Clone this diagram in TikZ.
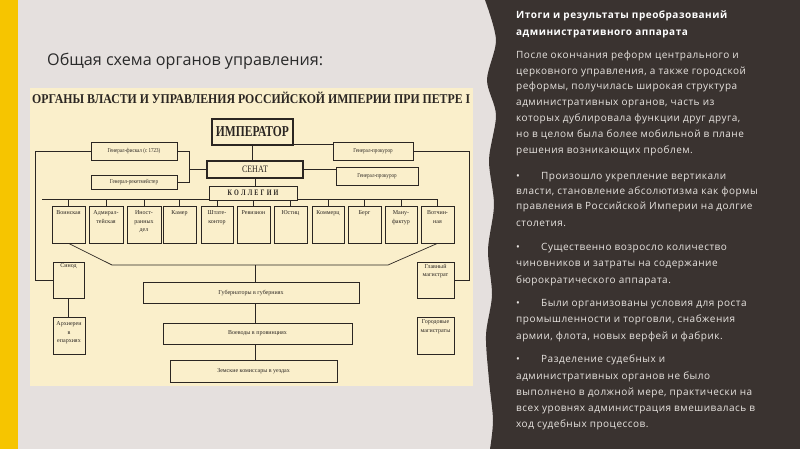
\documentclass[tikz,border=0pt]{standalone}
\usepackage{fontspec}
\usepackage{graphicx}
\setmainfont{Liberation Serif}
\newfontfamily\slidefont{Open Sans}
\newfontfamily\panelfont{Open Sans}[LetterSpace=5]
\newfontfamily\dgfont{Liberation Serif}
\usetikzlibrary{calc}
\pgfdeclarelayer{background}
\pgfsetlayers{background,main}
\definecolor{bggray}{HTML}{E5E0DE}
\definecolor{stripe}{HTML}{F6C500}
\definecolor{panel}{HTML}{3A3330}
\definecolor{paneltext}{HTML}{E8E4E0}
\definecolor{cream}{HTML}{FAEFCB}
\definecolor{ink}{HTML}{2B2622}
\definecolor{slideink}{HTML}{2A2A2A}
\newcommand\toptext[4]{\parbox[c][#2][t]{#1}{\centering\vspace*{#3}#4}}
\tikzset{
  dbox/.style={draw=ink, line width=0.7pt, fill=cream, inner sep=1pt,
    font=\dgfont\fontsize{6}{8.5}\selectfont, text=ink, align=center},
  thickbox/.style={dbox, line width=1.6pt},
  conn/.style={draw=ink, line width=0.7pt},
  ptext/.style={anchor=base west, text=paneltext, inner sep=0pt,
    font=\panelfont\fontsize{10}{12}\selectfont},
  ptitle/.style={ptext, font=\panelfont\bfseries\fontsize{10}{12}\selectfont, text=white},
}
\newcommand\bul{\makebox[25pt][l]{\textbullet}}
\begin{document}
\begin{tikzpicture}[x=1pt,y=-1pt]
\useasboundingbox (0,0) rectangle (800,449);
\begin{pgfonlayer}{background}
  \fill[bggray] (0,0) rectangle (800,449);
  \fill[stripe] (0,0) rectangle (18,449);
  \fill[cream] (30,88) rectangle (473,386);
  \fill[panel] plot[smooth] coordinates {(485,0) (496,40) (487,80) (496,115) (489,160) (494,205) (488,250) (492,295) (486,335) (489,380) (493,420) (490,449)}
    -- (800,449) -- (800,0) -- cycle;
\end{pgfonlayer}

% slide title
\node[anchor=base west, inner sep=0pt, text=slideink] (stitle) at (47,66)
  {\resizebox{276pt}{!}{\slidefont\fontsize{15}{18}\selectfont Общая схема органов управления:}};

% diagram title
\node[anchor=base west, inner sep=0pt, text=ink] (dtitle) at (32,104)
  {\resizebox{438pt}{!}{\scalebox{0.88}[1]{\dgfont\bfseries\fontsize{14}{16}\selectfont ОРГАНЫ ВЛАСТИ И УПРАВЛЕНИЯ РОССИЙСКОЙ ИМПЕРИИ ПРИ ПЕТРЕ I}}};

% top boxes
\node[thickbox, minimum width=81, minimum height=26] (imp) at (252.5,132)
  {\resizebox{73pt}{10pt}{\bfseries ИМПЕРАТОР}};
\node[thickbox, minimum width=96, minimum height=17] (senat) at (255,169.5)
  {\resizebox{26pt}{6.5pt}{СЕНАТ}};
\node[dbox, minimum width=88, minimum height=14] (koll) at (253,193)
  {\resizebox{51pt}{5.5pt}{\bfseries К\hspace{0.35em}О\hspace{0.35em}Л\hspace{0.35em}Л\hspace{0.35em}Е\hspace{0.35em}Г\hspace{0.35em}И\hspace{0.35em}И}};
\node[dbox, minimum width=86, minimum height=18] (fisk) at (134,151)
  {\scalebox{0.85}[1]{Генерал-фискал (с 1723)}};
\node[dbox, minimum width=86, minimum height=14] (reket) at (134,182)
  {\scalebox{0.85}[1]{Генерал-рекетмейстер}};
\node[dbox, minimum width=80, minimum height=18] (prok1) at (373,151)
  {\scalebox{0.85}[1]{Генерал-прокурор}};
\node[dbox, minimum width=82, minimum height=18] (prok2) at (377,176)
  {\scalebox{0.85}[1]{Генерал-прокурор}};

% collegia
\node[dbox] (c1) at (68.5,224.5) {\toptext{31pt}{35pt}{4pt}{Воинская}};
\node[dbox] (c2) at (106,224.5) {\toptext{32pt}{35pt}{4pt}{Адмирал-\\тейская}};
\node[dbox] (c3) at (144,224.5) {\toptext{32pt}{35pt}{4pt}{Иност-\\ранных\\дел}};
\node[dbox] (c4) at (179.5,224.5) {\toptext{31pt}{35pt}{4pt}{Камер}};
\node[dbox] (c5) at (217,224.5) {\toptext{30pt}{35pt}{4pt}{Штате-\\контор}};
\node[dbox] (c6) at (253.5,224.5) {\toptext{31pt}{35pt}{4pt}{Ревизион}};
\node[dbox] (c7) at (290.5,224.5) {\toptext{31pt}{35pt}{4pt}{Юстиц}};
\node[dbox] (c8) at (328,224.5) {\toptext{30pt}{35pt}{4pt}{Коммерц}};
\node[dbox] (c9) at (364.5,224.5) {\toptext{31pt}{35pt}{4pt}{Берг}};
\node[dbox] (c10) at (401,224.5) {\toptext{30pt}{35pt}{4pt}{Ману-\\фактур}};
\node[dbox] (c11) at (437.5,224.5) {\toptext{31pt}{35pt}{4pt}{Вотчин-\\ная}};

% side boxes
\node[dbox] (sinod) at (68.5,280) {\toptext{29pt}{34pt}{1pt}{Синод}};
\node[dbox] (arh) at (69,335.5) {\toptext{30pt}{35pt}{4pt}{Архиереи\\в\\епархиях}};
\node[dbox] (glav) at (435.5,280) {\toptext{35pt}{34pt}{1pt}{Главный\\магистрат}};
\node[dbox] (gorod) at (435.5,335.5) {\toptext{35pt}{35pt}{2pt}{Городовые\\магистраты}};

% local government
\node[dbox, minimum width=216, minimum height=21] (gub) at (251,292.5) {Губернаторы в губерниях};
\node[dbox, minimum width=189, minimum height=21] (voev) at (257.5,333.5) {Воеводы в провинциях};
\node[dbox, minimum width=167, minimum height=22] (zem) at (253.5,371) {Земские комиссары в уездах};

% connectors
\coordinate (bus) at (42,199);
\coordinate (brk) at (189,0);
\coordinate (lv) at (35,0);
\coordinate (rv) at (469,0);
\coordinate (dl) at (112,265);
\coordinate (dr) at (388,265);
\coordinate (gx) at (255,265);
\begin{pgfonlayer}{background}
  \draw[conn] (imp.south) -- (imp.south |- senat.north);
  \draw[conn] (senat.south) -- (senat.south |- koll.north);
  \draw[conn] (bus) -- (c11.north |- bus);
  \foreach \n in {c1,c2,c3,c4,c5,c6,c7,c8,c9,c10,c11}
    \draw[conn] (\n.north) -- (\n.north |- bus);
  \draw[conn] (fisk.east) -| (brk |- reket.east) -- (reket.east);
  \draw[conn] (senat.west) -- (brk |- senat.west);
  \draw[conn] ([yshift=1pt]imp.south east) -- ([yshift=1pt]imp.south east -| prok1.west);
  \draw[conn] (senat.east) -- (senat.east -| prok2.west);
  \draw[conn] (fisk.west) -| (lv |- sinod.west) -- (sinod.west);
  \draw[conn] (prok1.east) -| (rv |- glav.east) -- (glav.east);
  \draw[conn] (sinod.south) -- (sinod.south |- arh.north);
  \draw[conn] (c1.south) -- (dl) -- (dr) -- (c11.south);
  \draw[conn] (gx) -- (gx |- gub.north);
  \draw[conn] (gub.south -| gx) -- (voev.north -| gx);
  \draw[conn] (voev.south -| gx) -- (zem.north -| gx);
\end{pgfonlayer}

% right panel text
\node[ptitle] (t1) at (516,19) {Итоги и результаты преобразований};
\node[ptitle] (t2) at (516,36) {административного аппарата};
\node[ptext] (p1) at (516,59) {После окончания реформ центрального и};
\node[ptext] (p2) at (516,75) {церковного управления, а также городской};
\node[ptext] (p3) at (516,90) {реформы, получилась широкая структура};
\node[ptext] (p4) at (516,106) {административных органов, часть из};
\node[ptext] (p5) at (516,122) {которых дублировала функции друг друга,};
\node[ptext] (p6) at (516,138) {но в целом была более мобильной в плане};
\node[ptext] (p7) at (516,154) {решения возникающих проблем.};
\node[ptext] (b11) at (516,179) {\bul Произошло укрепление вертикали};
\node[ptext] (b12) at (516,195) {власти, становление абсолютизма как формы};
\node[ptext] (b13) at (516,210) {правления в Российской Империи на долгие};
\node[ptext] (b14) at (516,226) {столетия.};
\node[ptext] (b21) at (516,250) {\bul Существенно возросло количество};
\node[ptext] (b22) at (516,266) {чиновников и затраты на содержание};
\node[ptext] (b23) at (516,283) {бюрократического аппарата.};
\node[ptext] (b31) at (516,306) {\bul Были организованы условия для роста};
\node[ptext] (b32) at (516,322) {промышленности и торговли, снабжения};
\node[ptext] (b33) at (516,339) {армии, флота, новых верфей и фабрик.};
\node[ptext] (b41) at (516,362) {\bul Разделение судебных и};
\node[ptext] (b42) at (516,379) {административных органов не было};
\node[ptext] (b43) at (516,395) {выполнено в должной мере, практически на};
\node[ptext] (b44) at (516,411) {всех уровнях администрация вмешивалась в};
\node[ptext] (b45) at (516,427) {ход судебных процессов.};
\end{tikzpicture}
\end{document}
